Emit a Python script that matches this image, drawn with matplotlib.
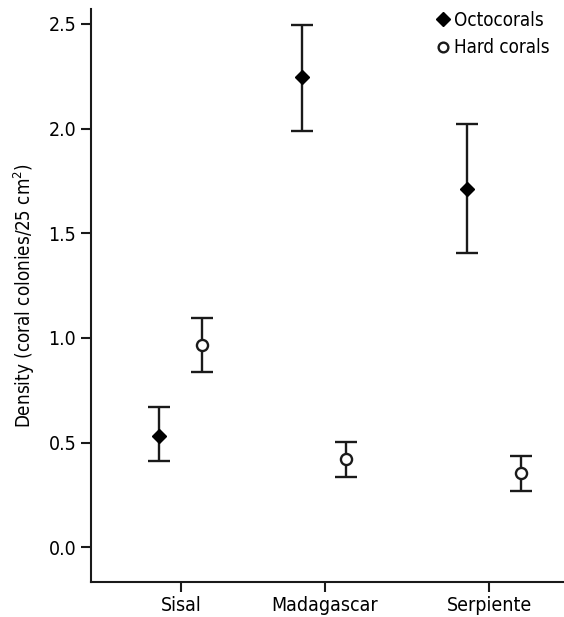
import numpy as np
import matplotlib
matplotlib.use("Agg")
import matplotlib.pyplot as plt
from matplotlib.lines import Line2D

plt.rcParams['font.family'] = ['DejaVu Sans']
plt.rcParams['font.stretch'] = 'condensed'

sites = ["Sisal", "Madagascar", "Serpiente"]
site_pos = [1.0, 2.0, 3.14]

octo_mean = [0.533, 2.245, 1.71]
octo_low = [0.41, 1.99, 1.405]
octo_high = [0.67, 2.497, 2.024]

hard_mean = [0.967, 0.422, 0.357]
hard_low = [0.838, 0.338, 0.271]
hard_high = [1.095, 0.505, 0.438]

# small horizontal shifts so the two series sit side by side
octo_shift = [-0.15, -0.16, -0.15]
hard_shift = [0.15, 0.15, 0.22]

fig = plt.figure(figsize=(5.64, 6.17), dpi=100)
ax = fig.add_axes([0.161, 0.057, 0.839, 0.928])

x = np.array(site_pos)
om = np.array(octo_mean)
hm = np.array(hard_mean)

ax.errorbar(x + np.array(octo_shift), om,
            yerr=[om - np.array(octo_low), np.array(octo_high) - om],
            fmt='D', color='black', ms=7, ecolor='#1a1a1a', elinewidth=1.7,
            capsize=8, capthick=1.7)
ax.errorbar(x + np.array(hard_shift), hm,
            yerr=[hm - np.array(hard_low), np.array(hard_high) - hm],
            fmt='o', mfc='white', mec='#1a1a1a', mew=1.7, ms=8, ecolor='#1a1a1a',
            elinewidth=1.7, capsize=8, capthick=1.7)

ax.set_xlim(0.375, 3.66)
ax.set_ylim(-0.165, 2.57)
ax.set_yticks([0.0, 0.5, 1.0, 1.5, 2.0, 2.5])
ax.set_yticklabels(["0.0", "0.5", "1.0", "1.5", "2.0", "2.5"])
ax.set_xticks(site_pos)
ax.set_xticklabels(sites)

for s in ['top', 'right']:
    ax.spines[s].set_visible(False)
for s in ['left', 'bottom']:
    ax.spines[s].set_linewidth(1.5)
    ax.spines[s].set_color('#1a1a1a')

ax.tick_params(axis='both', direction='out', length=7, width=1.5,
               color='#1a1a1a', labelsize=14)
ax.tick_params(axis='x', pad=3)
ax.set_ylabel("Density (coral colonies/25 cm$^2$)", fontsize=13.5, labelpad=8)

handles = [
    Line2D([], [], ls='none', marker='D', color='black', ms=7),
    Line2D([], [], ls='none', marker='o', mfc='white', mec='#1a1a1a', mew=1.7, ms=7),
]
ax.legend(handles, ["Octocorals", "Hard corals"], loc='upper right', frameon=False,
          fontsize=13.5, handletextpad=0.2, handlelength=0.8, borderaxespad=0.0,
          labelspacing=0.45, bbox_to_anchor=(0.985, 1.01))

fig.savefig("out.png", dpi=100)
